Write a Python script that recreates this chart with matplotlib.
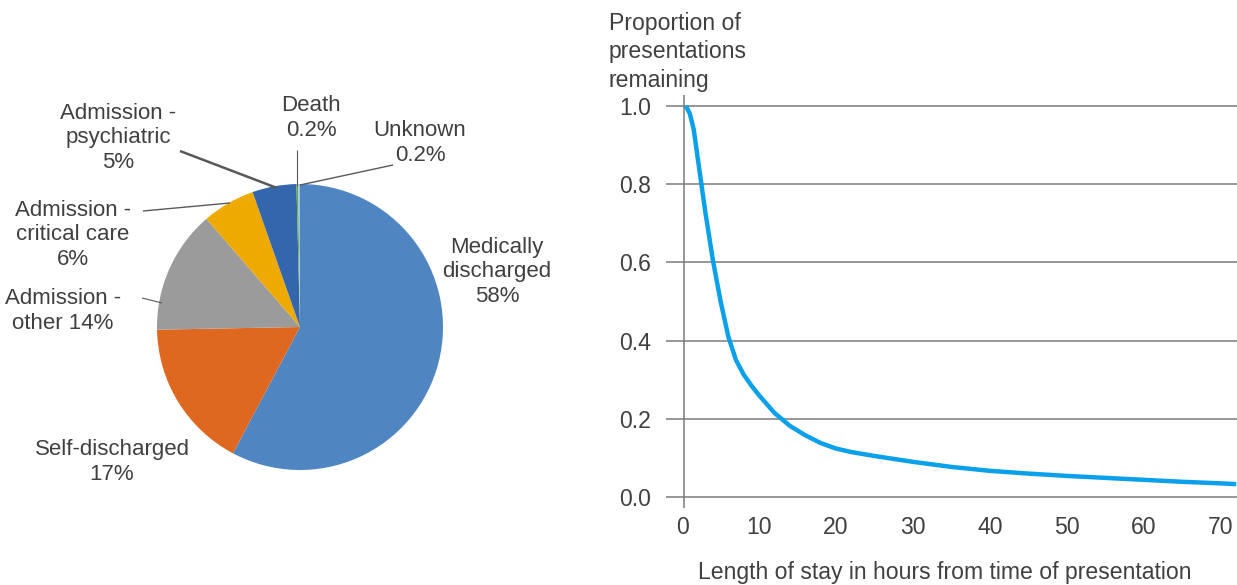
import matplotlib
matplotlib.use("Agg")
import matplotlib.pyplot as plt

plt.rcParams['font.family'] = ['Liberation Sans', 'DejaVu Sans']

# ---------------- data ----------------
outcomes = ["Medically discharged", "Self-discharged", "Admission - other",
            "Admission - critical care", "Admission - psychiatric", "Death", "Unknown"]
shares = [58, 17, 14, 6, 5, 0.2, 0.2]
outcome_labels = ["Medically\ndischarged\n58%", "Self-discharged\n17%", "Admission -\nother 14%",
                  "Admission -\ncritical care\n6%", "Admission -\npsychiatric\n5%",
                  "Death\n0.2%", "Unknown\n0.2%"]
slice_colors = ["#4f86c2", "#de6820", "#9b9b9b", "#eeaa00", "#3466ad", "#6aaa3f", "#9fc3e8"]

hours = [0.5, 1, 1.5, 2, 3, 4, 5, 6, 7, 8, 9, 10, 12, 14, 16, 18, 20, 22, 25, 30, 35,
         40, 45, 50, 55, 60, 65, 70, 72]
remaining = [1.0, 0.98, 0.94, 0.87, 0.73, 0.605, 0.50, 0.41, 0.35, 0.313, 0.285, 0.26,
             0.215, 0.182, 0.158, 0.138, 0.124, 0.115, 0.105, 0.090, 0.077, 0.067,
             0.060, 0.054, 0.049, 0.044, 0.039, 0.035, 0.033]
x_ticks = [0, 10, 20, 30, 40, 50, 60, 70]
y_ticks = [0.0, 0.2, 0.4, 0.6, 0.8, 1.0]

TXT = "#404040"
FS = 16
FS2 = 16.6
W, H = 1237, 585
fig = plt.figure(figsize=(W / 100, H / 100), dpi=100)

# ---------------- pie ----------------
cx, cy, R = 300, 327, 143
axp = fig.add_axes([0, 0, 600 / W, 1])
axp.pie(shares, colors=slice_colors, startangle=90, counterclock=False,
        radius=1, wedgeprops=dict(linewidth=0))
axp.set_xlim(-cx / R, (600 - cx) / R)
axp.set_ylim(-(H - cy) / R, cy / R)
axp.set_aspect('auto')
axp.axis('off')

def P(px, py):
    return ((px - cx) / R, (cy - py) / R)

label_pos = [(497, 272), (112, 462), (63, 311), (73, 235), (118, 138), (311, 118), (420, 143)]
for lab, (px, py) in zip(outcome_labels, label_pos):
    x, y = P(px, py)
    axp.text(x, y, lab, ha='center', va='center', fontsize=FS, color=TXT, linespacing=1.2)

leaders = [((142, 298), (162, 303), 0.8),
           ((143, 211), (230, 203), 1.0),
           ((180, 151), (277, 188), 1.8),
           ((297, 150), (297, 186), 0.8),
           ((393, 165), (300, 185), 1.0)]
for (a, b, lw) in leaders:
    xa, ya = P(*a)
    xb, yb = P(*b)
    axp.plot([xa, xb], [ya, yb], color="#595959", lw=lw, solid_capstyle='butt')

# ---------------- survival curve ----------------
left_px, right_px, top_px, bot_px = 666, 1237, 95, 508
axl = fig.add_axes([left_px / W, (H - bot_px) / H, (right_px - left_px) / W, (bot_px - top_px) / H])
axl.plot(hours, remaining, color="#0aa0ea", lw=3.2, solid_capstyle='butt',
         solid_joinstyle='round', zorder=3)
axl.set_xlim(-2.1, 72.1)
axl.set_ylim(-0.028, 1.028)
axl.set_yticks(y_ticks)
axl.set_yticklabels([f"{v:.1f}" for v in y_ticks])
axl.set_xticks(x_ticks)
axl.yaxis.grid(True, color="#7a7a7a", lw=1.1)
axl.set_axisbelow(True)
for s in ['top', 'right', 'bottom', 'left']:
    axl.spines[s].set_visible(False)
axl.axvline(0.26, color="#7a7a7a", lw=1.1, zorder=2)
axl.tick_params(axis='y', length=0, pad=11, labelsize=FS2, labelcolor=TXT)
axl.tick_params(axis='x', length=0, pad=6, labelsize=FS2, labelcolor=TXT)

fig.text(609 / W, 1 - 12 / H, "Proportion of\npresentations\nremaining", ha='left', va='top',
         fontsize=FS2, color=TXT, linespacing=1.3)
fig.text(945 / W, 1 - 572 / H, "Length of stay in hours from time of presentation",
         ha='center', va='center', fontsize=FS2, color=TXT)

fig.savefig("out.png", dpi=100, facecolor='white')
